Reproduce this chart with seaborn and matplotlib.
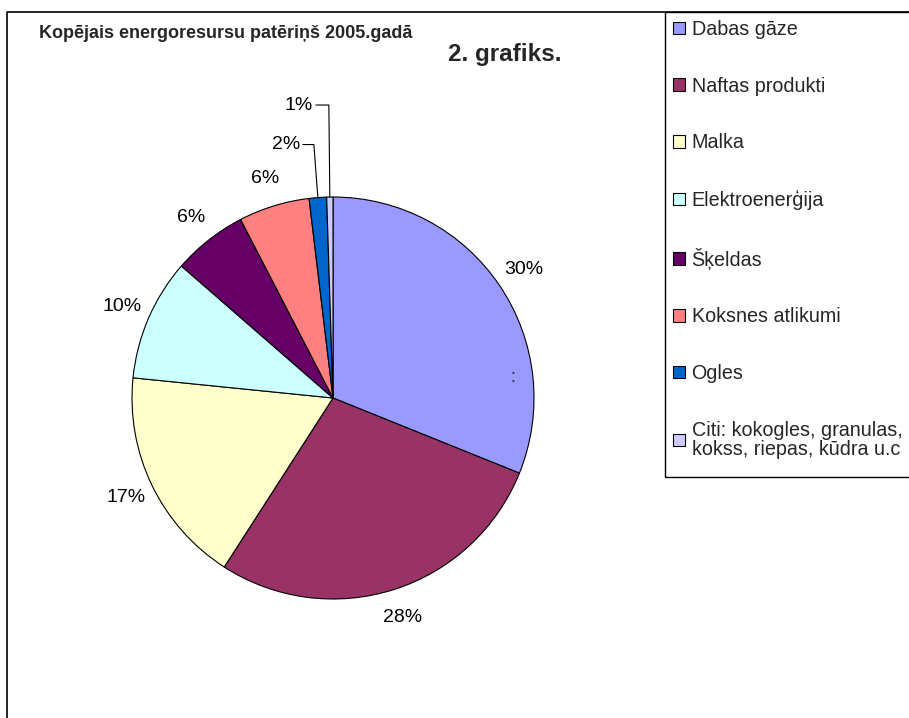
import numpy as np
import matplotlib
matplotlib.use("Agg")
import matplotlib.pyplot as plt
import seaborn as sns
from matplotlib.patches import Patch, Rectangle
from matplotlib.lines import Line2D

sns.set_style("white")
plt.rcParams['font.family'] = ['Liberation Sans', 'DejaVu Sans']

# ---- data ----
categories = ["Dabas gāze", "Naftas produkti", "Malka", "Elektroenerģija",
              "Šķeldas", "Koksnes atlikumi", "Ogles",
              "Citi: kokogles, granulas,\nkokss, riepas, kūdra u.c"]
shares = [31.1, 28.0, 17.5, 9.8, 6.0, 5.7, 1.4, 0.5]
pct_labels = ["30%", "28%", "17%", "10%", "6%", "6%", "2%", "1%"]
colors = ["#9999FF", "#993366", "#FFFFCC", "#CCFFFF", "#660066", "#FF8080",
          "#0066CC", "#CCCCFF"]
title = "Kopējais energoresursu patēriņš 2005.gadā"
subtitle = "2. grafiks."

W, H = 909, 718
fig = plt.figure(figsize=(W / 100, H / 100), dpi=100)

# pie geometry (pixels)
cx, cy, R = 333, 398, 201
ax = fig.add_axes([(cx - R) / W, (H - cy - R) / H, 2 * R / W, 2 * R / H])
ax.pie(shares, colors=colors, startangle=90, counterclock=False,
       wedgeprops=dict(edgecolor="black", linewidth=0.8))
ax.set_xlim(-1, 1)
ax.set_ylim(-1, 1)
ax.set_aspect("auto")
ax.axis("off")

vals = np.array(shares, dtype=float)
frac = vals / vals.sum()
cum = np.cumsum(frac)
mid = (cum - frac / 2) * 2 * np.pi  # clockwise from top
px = 1.0 / R
for i, lab in enumerate(pct_labels):
    sx, sy = np.sin(mid[i]), np.cos(mid[i])
    if i < 6:
        ax.text(1.145 * sx, 1.145 * sy, lab, ha="center", va="center",
                fontsize=14, color="black")
    else:
        # leader-line labels for the smallest slices
        ex, ey = sx, sy
        rise = 53 if i == 6 else 92
        ty = ey + rise * px
        elbow_x = ex - 4 * px if i == 6 else ex - 1 * px
        hlen = 11 if i == 6 else 13
        ax.plot([ex, elbow_x, elbow_x - hlen * px], [ey, ty, ty],
                color="black", lw=0.8, clip_on=False)
        ax.text(elbow_x - hlen * px - 3 * px, ty, lab, ha="right",
                va="center", fontsize=14, color="black")

# stray colon label in first slice
ax.text(180 * px, 21 * px, ":", ha="center", va="center", fontsize=13)

# titles
fig.text(226 / W, 1 - 33 / H, title, ha="center", va="center",
         fontsize=13, fontweight="bold")
fig.text(505 / W, 1 - 55 / H, subtitle, ha="center", va="center",
         fontsize=17.5, fontweight="bold")

# outer frame (top and left visible)
fig.add_artist(Line2D([7 / W, 7 / W, 1.01], [-0.01, 1 - 12 / H, 1 - 12 / H],
                      transform=fig.transFigure, color="black", lw=1.2))

# legend box
fig.add_artist(Rectangle((665 / W, 1 - 477 / H), 300 / W, (477 - 12) / H,
                         transform=fig.transFigure, fill=False,
                         edgecolor="black", lw=1.0))

# legend
handles = [Patch(facecolor=c, edgecolor="black", linewidth=0.8) for c in colors]
leg = fig.legend(handles, categories, loc="upper left",
                 bbox_to_anchor=(665 / W, 1 - 12 / H), borderaxespad=0,
                 fontsize=14.2, frameon=False,
                 handlelength=0.6, handleheight=0.6, handletextpad=0.35,
                 labelspacing=1.91, borderpad=0.4)
for t in leg.get_texts():
    t.set_linespacing(1.0)

fig.savefig("out.png", dpi=100)
